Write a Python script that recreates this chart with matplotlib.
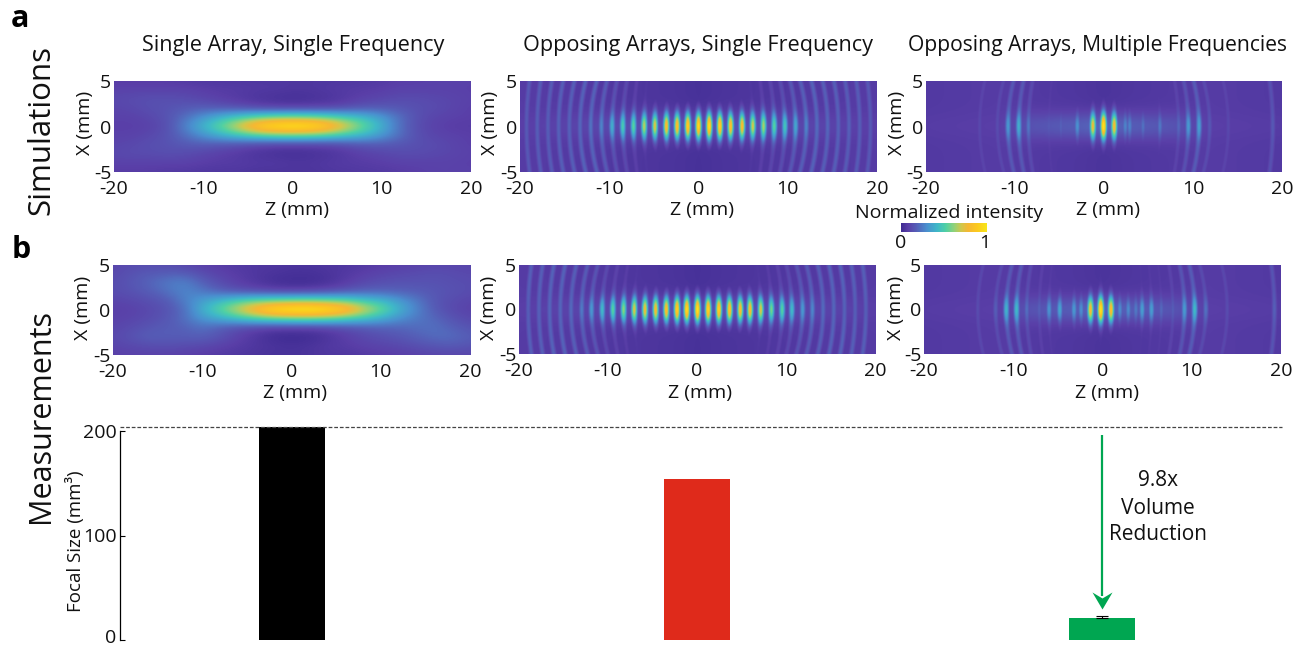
import numpy as np
import matplotlib
matplotlib.use('Agg')
import matplotlib.pyplot as plt
from matplotlib.colors import LinearSegmentedColormap
from matplotlib.transforms import ScaledTranslation

plt.rcParams['font.family'] = ['Open Sans', 'DejaVu Sans']
plt.rcParams['axes.unicode_minus'] = False
W, H = 1314, 648

# ---------- data ----------
grid_z = [-20, -18, -16, -14, -12, -10, -8, -6, -4, -2, 0, 2, 4, 6, 8, 10, 12, 14, 16, 18, 20]
grid_x = [5, 4, 3, 2, 1, 0, -1, -2, -3, -4, -5]
sim_single = [
 [.07,.07,.07,.07,.06,.05,.05,.05,.05,.05,.05,.05,.05,.05,.06,.06,.08,.08,.09,.09,.09],
 [.09,.09,.09,.09,.09,.08,.07,.07,.06,.06,.05,.05,.06,.07,.07,.08,.09,.09,.09,.09,.08],
 [.11,.12,.13,.13,.12,.10,.08,.06,.04,.03,.02,.03,.04,.06,.09,.10,.12,.12,.11,.10,.09],
 [.10,.11,.13,.14,.16,.17,.15,.13,.10,.08,.08,.08,.09,.12,.15,.16,.15,.13,.12,.10,.08],
 [.09,.09,.11,.14,.22,.31,.40,.47,.53,.57,.58,.57,.53,.47,.42,.33,.22,.13,.10,.09,.08],
 [.08,.08,.09,.13,.27,.42,.57,.76,.96,1.05,1.08,1.05,.95,.76,.57,.40,.22,.12,.09,.07,.07],
 [.09,.09,.11,.14,.22,.31,.40,.47,.53,.57,.58,.57,.53,.47,.42,.33,.22,.13,.10,.09,.08],
 [.10,.11,.13,.14,.16,.17,.15,.13,.10,.08,.08,.08,.09,.12,.15,.16,.15,.13,.12,.10,.08],
 [.11,.12,.12,.13,.12,.10,.08,.06,.04,.03,.02,.03,.04,.06,.09,.10,.12,.12,.11,.10,.09],
 [.09,.09,.09,.09,.09,.08,.07,.07,.06,.06,.05,.05,.06,.07,.07,.08,.09,.09,.09,.09,.08],
 [.07,.07,.07,.06,.06,.05,.05,.05,.04,.04,.04,.04,.05,.05,.06,.06,.07,.08,.09,.09,.09],
]
meas_single = [
 [.10,.12,.12,.12,.10,.08,.07,.06,.05,.05,.04,.04,.05,.05,.06,.07,.08,.09,.10,.10,.10],
 [.11,.14,.16,.17,.17,.12,.09,.07,.05,.04,.03,.03,.04,.06,.08,.10,.11,.12,.13,.12,.11],
 [.12,.15,.19,.24,.27,.18,.12,.08,.05,.02,.01,.01,.03,.07,.11,.13,.14,.14,.14,.13,.12],
 [.12,.14,.17,.22,.28,.24,.18,.14,.12,.10,.09,.10,.12,.15,.18,.19,.18,.17,.15,.14,.12],
 [.10,.11,.13,.16,.26,.34,.42,.50,.55,.57,.59,.59,.57,.54,.47,.42,.33,.24,.15,.12,.10],
 [.08,.09,.11,.14,.21,.40,.55,.72,.90,1.04,1.08,1.10,1.05,.95,.74,.58,.40,.27,.16,.11,.09],
 [.09,.10,.12,.15,.22,.32,.38,.45,.51,.55,.57,.57,.55,.50,.45,.38,.30,.24,.20,.14,.11],
 [.10,.12,.15,.17,.18,.22,.17,.12,.09,.07,.07,.07,.09,.12,.15,.18,.19,.21,.22,.18,.14],
 [.11,.14,.18,.17,.17,.18,.14,.09,.05,.01,.00,.01,.04,.08,.11,.13,.15,.18,.21,.21,.17],
 [.10,.11,.12,.13,.12,.11,.09,.07,.05,.04,.03,.04,.06,.07,.09,.10,.11,.13,.15,.16,.14],
 [.08,.09,.09,.09,.08,.07,.06,.05,.04,.03,.03,.04,.05,.05,.06,.07,.08,.09,.10,.10,.10],
]

sim_opp_z = [-19.3,-18.1,-16.9,-15.7,-14.5,-13.3,-12.1,-10.9,-9.7,-8.5,-7.3,-6.1,-4.9,-3.6,-2.4,-1.2,0,
             1.2,2.4,3.6,4.9,6.1,7.3,8.5,9.7,10.9,12.1,13.3,14.5,15.7,16.9,18.1,19.3]
sim_opp_peak = [.14,.15,.15,.16,.16,.17,.20,.24,.36,.46,.50,.64,.70,.80,.82,.88,.93,
                .96,.90,.82,.80,.68,.62,.50,.44,.34,.24,.18,.17,.16,.16,.15,.14]
sim_opp_far = [.14,.15,.15,.16,.16,.17,.17,.15,.12,.10,.07,.04,.02,.01,.0,.0,.0,
               .0,.0,.01,.02,.04,.07,.09,.11,.14,.16,.17,.16,.16,.15,.15,.14]

meas_opp_z = [-19.0,-17.8,-16.6,-15.4,-14.2,-13.0,-11.9,-10.7,-9.5,-8.3,-7.1,-5.9,-4.7,-3.5,-2.3,-1.2,0,
              1.2,2.4,3.6,4.8,5.9,7.1,8.3,9.5,10.6,11.8,12.9,14.1,15.3,16.5,17.7,18.9]
meas_opp_peak = [.15,.16,.17,.17,.18,.22,.30,.40,.50,.58,.70,.75,.78,.82,.90,.95,.98,
                 .92,.90,.85,.80,.80,.70,.55,.50,.40,.30,.25,.18,.17,.16,.15,.15]
meas_opp_far = [.16,.16,.17,.17,.16,.15,.13,.10,.08,.06,.04,.02,.01,.0,.0,.0,.0,
                .0,.0,.0,.01,.02,.04,.06,.08,.10,.13,.15,.16,.17,.17,.16,.16]

sim_multi_z = [-14.0,-12.0,-10.8,-9.6,-8.5,-6.2,-4.85,-3.0,-1.25,-0.05,1.15,2.4,2.9,4.4,6.3,8.4,9.5,10.7,11.9,14.0,19.0]
sim_multi_peak = [.09,.10,.30,.36,.20,.12,.14,.26,.72,.98,.76,.22,.22,.18,.20,.16,.30,.32,.13,.09,.14]
sim_multi_far = [.08,.09,.14,.14,.10,.05,.03,.02,.02,.02,.02,.02,.02,.02,.04,.08,.12,.15,.10,.08,.12]

meas_multi_z = [-14.0,-12.0,-10.8,-9.65,-8.5,-7.1,-6.0,-4.8,-3.2,-2.4,-1.35,-0.2,0.95,1.95,2.9,3.75,4.45,5.5,6.6,7.9,9.2,10.35,11.6,14.0,19.3]
meas_multi_peak = [.10,.15,.38,.40,.18,.14,.27,.32,.28,.25,.76,.98,.80,.24,.24,.20,.30,.30,.16,.13,.30,.40,.20,.10,.16]
meas_multi_far = [.09,.10,.14,.14,.10,.07,.05,.03,.03,.02,.02,.03,.02,.02,.02,.03,.04,.05,.05,.08,.13,.15,.10,.09,.13]

base_z = [-20, -12, -8, -3, 0, 3, 8, 12, 20]
opp_axis = [.08, .10, .12, .14, .14, .14, .12, .10, .08]
opp_edge = [.07, .06, .05, .04, .03, .04, .05, .06, .07]
multi_axis = [.07, .08, .14, .17, .20, .17, .14, .08, .07]
multi_edge = [.06, .07, .06, .05, .04, .05, .06, .07, .06]

categories = ['Single Array, Single Frequency', 'Opposing Arrays, Single Frequency',
              'Opposing Arrays, Multiple Frequencies']
focal_size = [203.5, 153.8, 21.0]
focal_err = [0, 0, 1.5]
bar_colors = ['#000000', '#df2a1b', '#00a651']
reference_level = 203.5
xt = [-20, -10, 0, 10, 20]
yt = [-5, 0, 5]

cmap = LinearSegmentedColormap.from_list('parula_like', [
    (0, '#3e2b92'), (.08, '#5a3fa8'), (.18, '#5560b8'), (.30, '#4a90cf'), (.42, '#3fb8c8'),
    (.52, '#4fd0a5'), (.62, '#92d278'), (.70, '#d0c84c'), (.78, '#f5b834'), (.88, '#fcc820'), (1, '#f8e61a')])


def fringes(cz, peak, far, axis, edge, span=1.5, sig=.33):
    z = np.linspace(-20, 20, 500)
    x = np.linspace(5, -5, 130)
    Z, X = np.meshgrid(z, x)
    a = np.interp(Z, base_z, axis)
    e = np.interp(Z, base_z, edge)
    out = e + (a - e) * np.exp(-(X / 1.5) ** 2)
    for c, p, f in zip(cz, peak, far):
        bend = np.interp(abs(c), [0, 5, 12, 20], [0, .25, .7, .3])
        zc = c - np.sign(c) * bend * (X / 5) ** 2
        amp = f + (p - f) * np.exp(-(X / span) ** 2)
        out = np.maximum(out, amp * np.exp(-((Z - zc) / sig) ** 2) + out * .3)
    return out


def ax_px(l, t, r, b):
    return fig.add_axes([l / W, 1 - b / H, (r - l) / W, (b - t) / H])


def txt(x, y, s, size=14, **kw):
    kw.setdefault('ha', 'center')
    kw.setdefault('va', 'center')
    return fig.text(x / W, 1 - y / H, s, fontsize=size, color='#111111', **kw)


fig = plt.figure(figsize=(W / 100, H / 100), dpi=100)

panels = [
    ((114, 81, 471, 172), ('grid', sim_single), (297, 210), (85, 123)),
    ((520, 81, 877, 172), ('fr', sim_opp_z, sim_opp_peak, sim_opp_far, opp_axis, opp_edge), (702, 210), (490, 123)),
    ((926, 81, 1282, 172), ('fr', sim_multi_z, sim_multi_peak, sim_multi_far, multi_axis, multi_edge), (1108, 210), (897, 123)),
    ((113, 265, 470, 355), ('grid', meas_single), (295, 393), (83, 308)),
    ((519, 265, 875, 354), ('fr', meas_opp_z, meas_opp_peak, meas_opp_far, opp_axis, opp_edge), (700, 393), (489, 308)),
    ((924, 265, 1281, 354), ('fr', meas_multi_z, meas_multi_peak, meas_multi_far, multi_axis, multi_edge), (1107, 393), (896, 308)),
]
for box, spec, zl, xl in panels:
    ax = ax_px(*box)
    if spec[0] == 'grid':
        ax.imshow(spec[1], cmap=cmap, vmin=0, vmax=1, aspect='auto', interpolation='bicubic',
                  extent=(grid_z[0] - 1, grid_z[-1] + 1, grid_x[-1] - .5, grid_x[0] + .5))
    else:
        ax.imshow(fringes(*spec[1:]), cmap=cmap, vmin=0, vmax=1, aspect='auto', interpolation='bilinear',
                  extent=(-20, 20, -5, 5))
    ax.set_xlim(-20, 20)
    ax.set_ylim(-5, 5)
    ax.set_xticks(xt)
    ax.set_yticks(yt)
    ax.tick_params(axis='x', length=0, labelsize=14, pad=6, labelcolor='#111111')
    ax.tick_params(axis='y', length=0, labelsize=14, pad=2, labelcolor='#111111')
    for s in ax.spines.values():
        s.set_visible(False)
    txt(zl[0], zl[1], 'Z (mm)')
    txt(xl[0], xl[1], 'X (mm)', rotation=90)

for cx, s, fs in zip((293, 698, 1097), categories, (15.6, 15.6, 15.2)):
    txt(cx, 45, s, size=fs)

# colour bar
cax = ax_px(901, 223, 987, 232)
cax.imshow(np.linspace(0, 1, 256)[None, :], cmap=cmap, aspect='auto', extent=(0, 1, 0, 1))
cax.set_axis_off()
txt(949, 213, 'Normalized intensity', size=14)
txt(901, 243, '0')
txt(985, 243, '1')

# panel letters and row titles
fig.text(20 / W, 1 - 19 / H, 'a', fontsize=22, fontweight='bold', ha='center', va='center', color='black')
fig.text(21 / W, 1 - 250 / H, 'b', fontsize=22, fontweight='bold', ha='center', va='center', color='black')
txt(41, 130, 'Simulations', size=22.5, rotation=90)
txt(41, 416, 'Measurements', size=22, rotation=90)

# bars
bx = ax_px(119.5, 427, 1282, 640)
pos = np.arange(3)
bx.bar(pos, focal_size, width=.163, color=bar_colors)
bx.errorbar(pos[2], focal_size[2], yerr=[[0], [focal_err[2]]], color='black', capsize=4.5, lw=.8, capthick=.8)
bx.axhline(reference_level, color='#444444', lw=.9, ls=(0, (3, 1.5)), clip_on=False)
bx.set_xlim(-.426, 2.444)
bx.set_ylim(0, 213 / 209 * 200)
bx.set_xticks([])
bx.set_yticks([0, 100, 200])
bx.tick_params(axis='y', direction='in', length=3.5, width=.8, labelsize=14, pad=2, labelcolor='#111111')
zero_label = bx.get_yticklabels()[0]
zero_label.set_transform(zero_label.get_transform() + ScaledTranslation(0, 3 / 72, fig.dpi_scale_trans))
for s in ('top', 'right', 'bottom'):
    bx.spines[s].set_visible(False)
bx.spines['left'].set_bounds(0, 200)
bx.spines['left'].set_linewidth(.9)
bx.patch.set_alpha(0)
txt(75, 541, 'Focal Size (mm³)', size=13.5, rotation=90)

arrow_x, arrow_top, arrow_tip = pos[2] + .0, 196.5, 30
bx.plot([arrow_x, arrow_x], [arrow_top, arrow_tip + 12], color='#00a651', lw=1.6, solid_capstyle='butt')
head = [(0, 0), (-10, 17), (0, 11), (10, 17), (0, 0)]
bx.plot([arrow_x], [arrow_tip], marker=head, ms=24.5, color='#00a651', mew=0, ls='none')
for y, s in zip((481, 508, 535), ('9.8x', 'Volume', 'Reduction')):
    txt(1158, y, s, size=15)

fig.savefig('out.png', dpi=100)
